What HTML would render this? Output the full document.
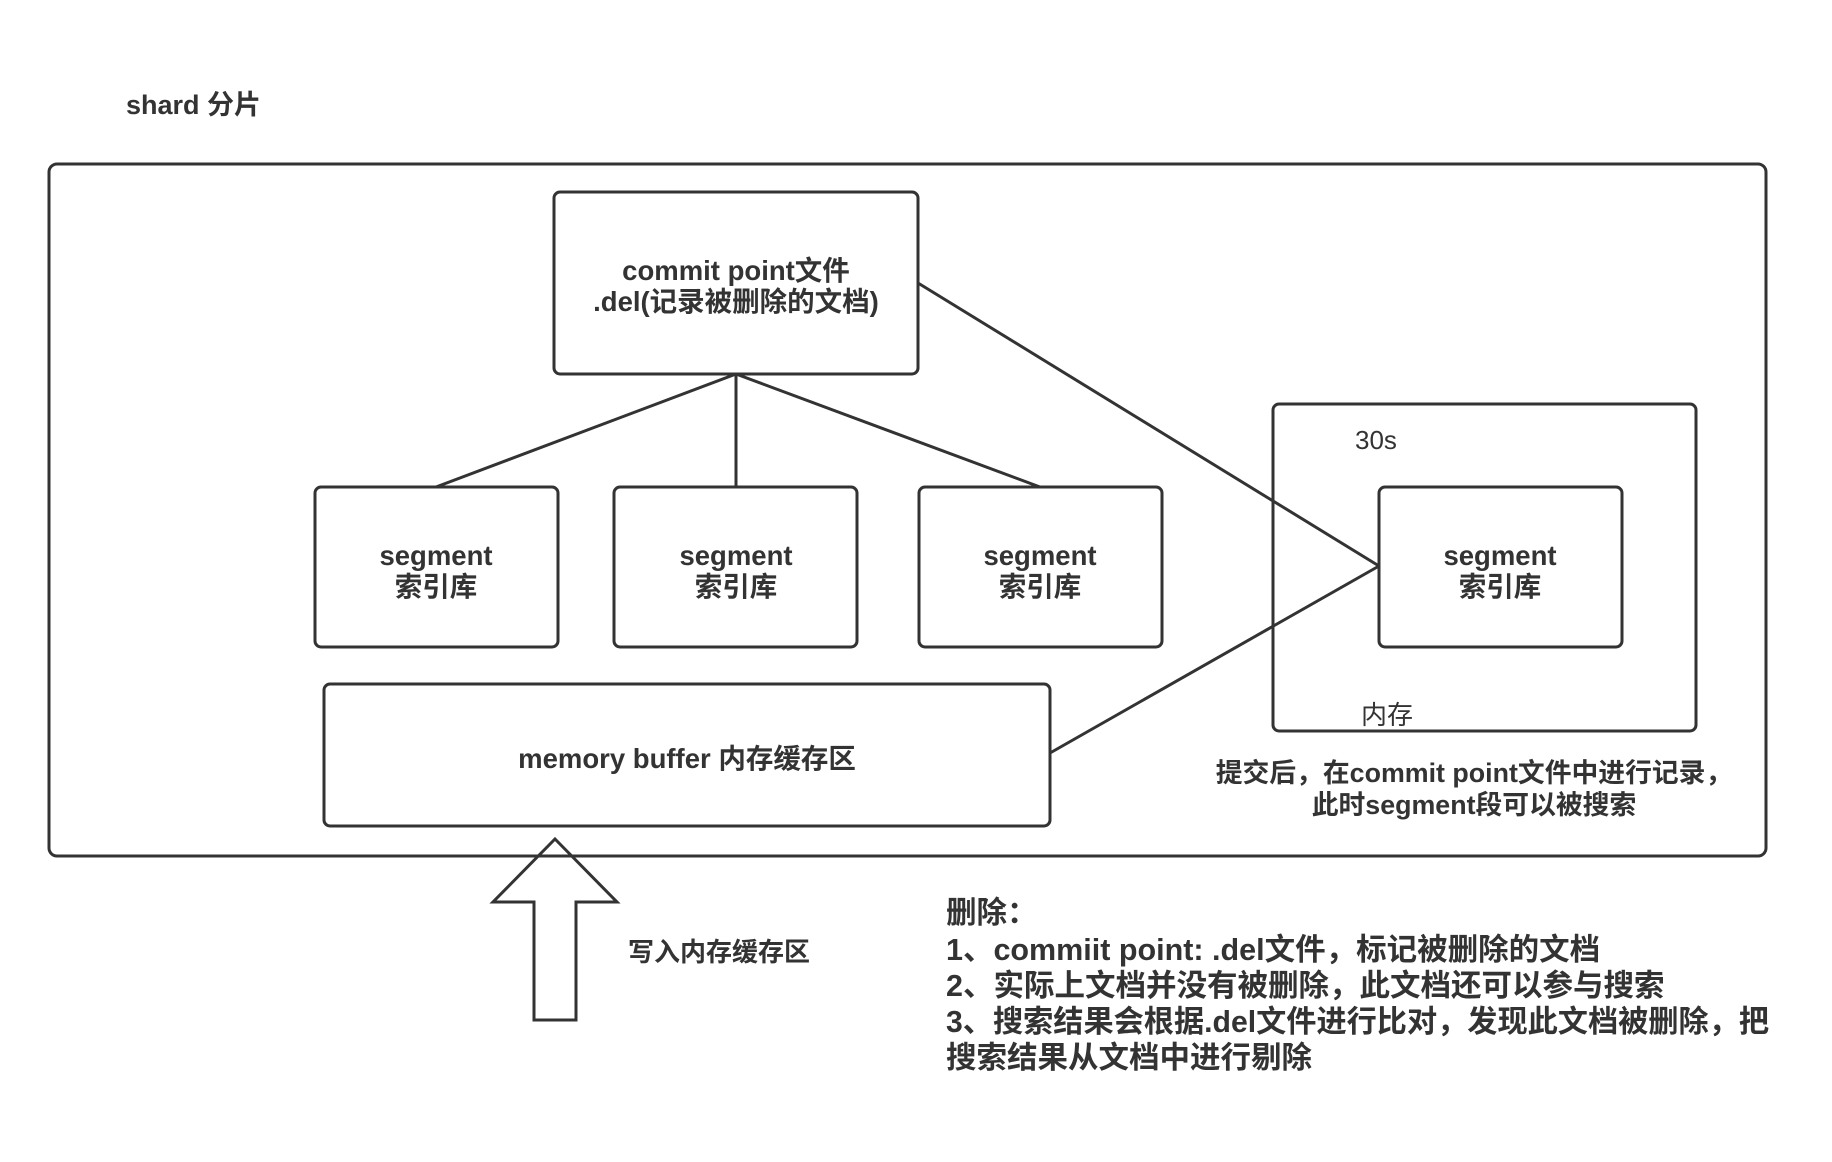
<!DOCTYPE html>
<html><head><meta charset="utf-8"><style>
html,body{margin:0;padding:0;background:#fff;}
svg{display:block;}
text{font-family:"Liberation Sans","Noto Sans CJK SC",sans-serif;fill:#333;font-weight:bold;}
.n{font-weight:normal;}
</style></head><body>
<svg width="1832" height="1162" viewBox="0 0 1832 1162" xmlns="http://www.w3.org/2000/svg">
<g fill="none" stroke="#333" stroke-width="3">
<rect x="49" y="164" width="1717" height="692" rx="8"/>
<rect x="554" y="192" width="364" height="182" rx="6"/>
<rect x="315" y="487" width="243" height="160" rx="6"/>
<rect x="614" y="487" width="243" height="160" rx="6"/>
<rect x="919" y="487" width="243" height="160" rx="6"/>
<rect x="1273" y="404" width="423" height="327" rx="6"/>
<rect x="1379" y="487" width="243" height="160" rx="6"/>
<rect x="324" y="684" width="726" height="142" rx="6"/>
<line x1="736" y1="374" x2="436" y2="487"/>
<line x1="736" y1="374" x2="736" y2="487"/>
<line x1="736" y1="374" x2="1040" y2="487"/>
<line x1="918" y1="283" x2="1379" y2="566"/>
<line x1="1050" y1="753" x2="1379" y2="566"/>
<polygon points="555,839 617,902 576,902 576,1020 534,1020 534,902 493,902"/>
</g>
<text x="126" y="114" font-size="27">shard 分片</text>
<text x="736" y="280" font-size="27.5" text-anchor="middle">commit point文件</text>
<text x="736" y="311" font-size="27.5" text-anchor="middle">.del(记录被删除的文档)</text>
<g font-size="27.5" text-anchor="middle">
<text x="436" y="565">segment</text><text x="436" y="596">索引库</text>
<text x="736" y="565">segment</text><text x="736" y="596">索引库</text>
<text x="1040" y="565">segment</text><text x="1040" y="596">索引库</text>
<text x="1500" y="565">segment</text><text x="1500" y="596">索引库</text>
<text x="687" y="768">memory buffer 内存缓存区</text>
<text x="1474" y="782" font-size="26.8">提交后，在commit point文件中进行记录，</text>
<text x="1474" y="814" font-size="26.8">此时segment段可以被搜索</text>
</g>
<text class="n" x="1355" y="449" font-size="26">30s</text>
<text class="n" x="1361" y="724" font-size="26">内存</text>
<text x="628" y="961" font-size="26">写入内存缓存区</text>
<g font-size="30.5">
<text x="946" y="923">删除：</text>
<text x="946" y="960">1、commiit point: .del文件，标记被删除的文档</text>
<text x="946" y="996">2、实际上文档并没有被删除，此文档还可以参与搜索</text>
<text x="946" y="1032" textLength="823" lengthAdjust="spacingAndGlyphs">3、搜索结果会根据.del文件进行比对，发现此文档被删除，把</text>
<text x="946" y="1068">搜索结果从文档中进行剔除</text>
</g>
</svg>
</body></html>
